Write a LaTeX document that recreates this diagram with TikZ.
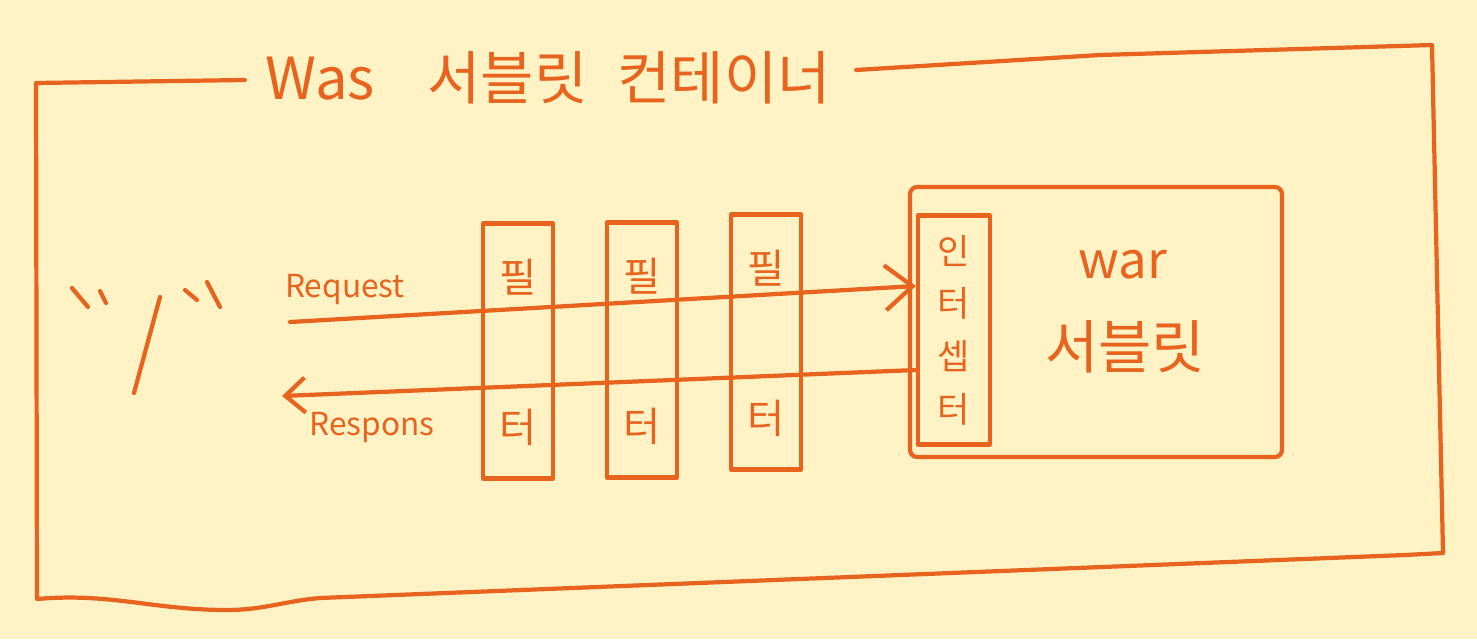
\documentclass[tikz,border=0pt]{standalone}
\usepackage{fontspec}
\newfontfamily\hand{Noto Sans CJK KR}
\usetikzlibrary{arrows.meta,positioning,calc}
\definecolor{paper}{HTML}{FFF3C6}
\definecolor{pen}{HTML}{E8641E}

\begin{document}
\begin{tikzpicture}[x=0.02cm,y=-0.02cm,
    ink/.style={draw=pen,line width=2.4pt,line cap=round,line join=round},
    filterbox/.style={ink,minimum width=1.4cm,minimum height=5.1cm,inner sep=0pt},
    txt/.style={color=pen,inner sep=0pt},
    big/.style={txt,font=\hand\fontsize{33}{38}\selectfont},
    mid/.style={txt,font=\hand\fontsize{23}{27}\selectfont},
    small/.style={txt,font=\hand\fontsize{18}{22}\selectfont},
    flow/.style={ink,-{Straight Barb[length=0.55cm,width=0.9cm]}},
    back/.style={ink,-{Straight Barb[length=0.4cm,width=0.7cm]}}
]
\fill[paper] (0,0) rectangle (1477,639);
\useasboundingbox (0,0) rectangle (1477,639);

% container
\node[big] (title) at (548,78) {Was\hspace{30pt}서블릿\hspace{17pt}컨테이너};
\draw[ink] ($(title.west)+(-20,2)$) -- (36,83) -- (37,599)
    to[out=5,in=180] (227,610) to[out=0,in=185] (320,598)
    -- (1405,555) -- (1443,553) -- (1432,45) -- (1100,55)
    -- ($(title.east)+(25,-8)$);

% client
\draw[ink] (72,288) -- (88,307) (100,291) -- (106,303) (160,297) -- (134,393)
    (185,290) -- (197,300) (207,282) -- (220,307);

% filters
\node[filterbox] (f1) at (518,351) {};
\node[filterbox] (f2) at (642,350) {};
\node[filterbox] (f3) at (766,342) {};
\foreach \f in {f1,f2,f3} {
    \node[mid] at ($(\f.center)+(0,-74)$) {필};
    \node[mid] at ($(\f.center)+(0,76)$) {터};
}

% servlet
\node[ink,rounded corners=4pt,minimum width=7.44cm,minimum height=5.4cm] (servlet) at (1096,322) {};
\node[ink,small,align=center,minimum width=1.44cm,minimum height=4.58cm,
    font=\hand\fontsize{20}{30}\selectfont] (icpt) at (954,330) {인\\터\\셉\\터};
\node[txt,font=\hand\fontsize{29}{33}\selectfont] (war) at (1123,265) {war};
\node[big] (svname) at (1125,347) {서블릿};

% request / response
\coordinate (reqstart) at (290,322);
\coordinate (resend) at (282,396);
\node[small] (reqlbl) at (345,290) {Request};
\node[small] (reslbl) at (372,428) {Respons};
\draw[flow] (reqstart) -- ($(icpt.west)+(0,-44)$);
\draw[back] ($(icpt.west)+(0,40)$) -- (resend);
\end{tikzpicture}
\end{document}
